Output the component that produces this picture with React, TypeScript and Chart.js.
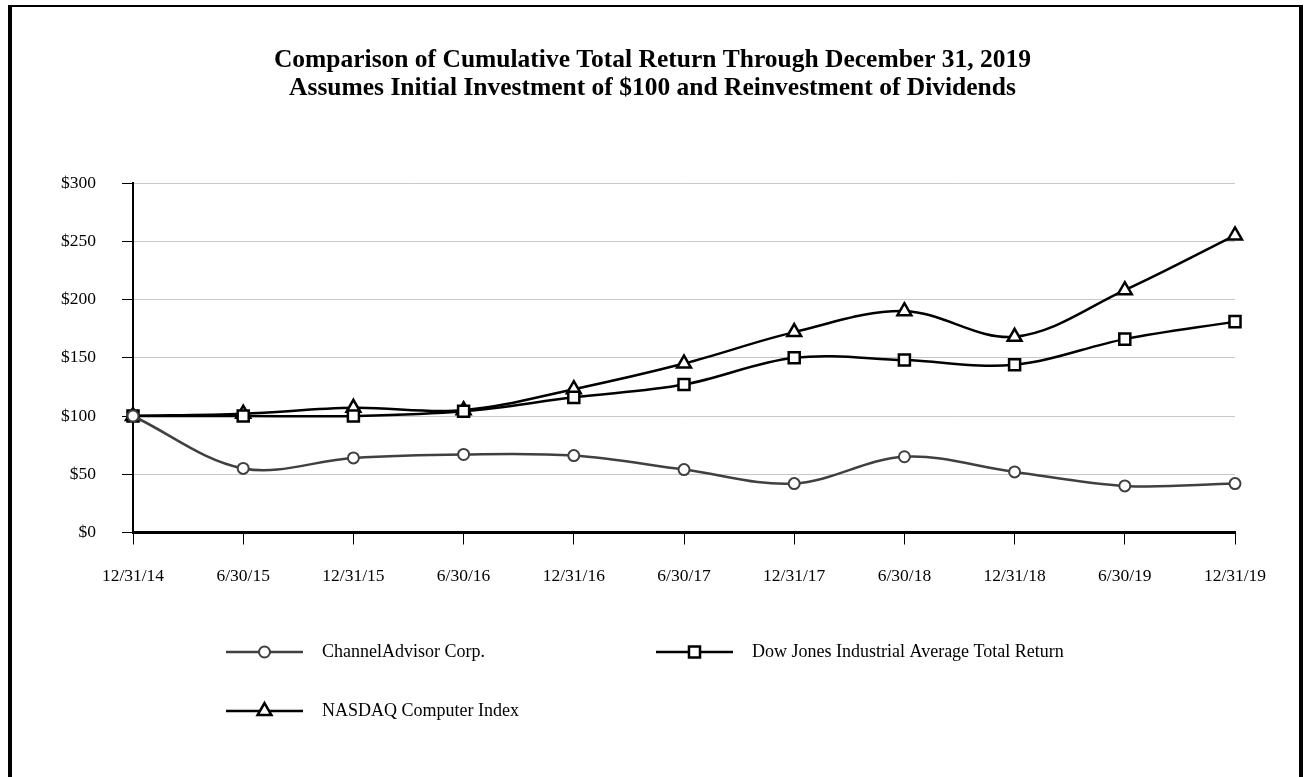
import React, { useEffect, useRef } from "react";
import { Chart, registerables } from "chart.js";

Chart.register(...registerables);

const categories = ["12/31/14", "6/30/15", "12/31/15", "6/30/16", "12/31/16", "6/30/17", "12/31/17", "6/30/18", "12/31/18", "6/30/19", "12/31/19"];
const channelAdvisor = [100, 55, 64, 67, 66, 54, 42, 65, 52, 40, 42];
const dowJones = [100, 100, 100, 104, 116, 127, 150, 148, 144, 166, 181];
const nasdaqComputer = [100, 102, 107, 105, 123, 145, 172, 190, 168, 208, 255];
const seriesLabels = ["ChannelAdvisor Corp.", "Dow Jones Industrial Average Total Return", "NASDAQ Computer Index"];
const titleLines = ["Comparison of Cumulative Total Return Through December 31, 2019", "Assumes Initial Investment of $100 and Reinvestment of Dividends"];
const yTicks = [0, 50, 100, 150, 200, 250, 300];

const FONT = "'Liberation Serif', 'Times New Roman', Times, serif";

function drawMarker(ctx: CanvasRenderingContext2D, style: string, x: number, y: number, r: number, stroke: string, fill: string, bw: number) {
  ctx.save();
  ctx.beginPath();
  if (style === "circle") {
    ctx.arc(x, y, r, 0, Math.PI * 2);
  } else if (style === "rect") {
    const s = Math.SQRT1_2 * r;
    ctx.rect(x - s, y - s, 2 * s, 2 * s);
  } else if (style === "triangle") {
    ctx.moveTo(x, y - r);
    ctx.lineTo(x + Math.sin(2 * Math.PI / 3) * r, y - Math.cos(2 * Math.PI / 3) * r);
    ctx.lineTo(x + Math.sin(4 * Math.PI / 3) * r, y - Math.cos(4 * Math.PI / 3) * r);
    ctx.closePath();
  }
  ctx.fillStyle = fill;
  ctx.fill();
  ctx.lineWidth = bw;
  ctx.strokeStyle = stroke;
  ctx.stroke();
  ctx.restore();
}

const customLegend = {
  id: "customLegend",
  afterDraw(chart: any, _args: any, opts: any) {
    const ctx: CanvasRenderingContext2D = chart.ctx;
    chart.data.datasets.forEach((ds: any, i: number) => {
      const pos = opts.items[i];
      if (!pos) return;
      ctx.save();
      ctx.strokeStyle = ds.borderColor;
      ctx.lineWidth = ds.borderWidth;
      ctx.beginPath();
      ctx.moveTo(pos.x, pos.y);
      ctx.lineTo(pos.x + opts.lineLength, pos.y);
      ctx.stroke();
      drawMarker(ctx, ds.pointStyle, pos.x + opts.lineLength / 2, pos.y, ds.pointRadius, ds.pointBorderColor, ds.pointBackgroundColor, ds.pointBorderWidth);
      ctx.fillStyle = "#000";
      ctx.font = `${opts.fontSize}px ${FONT}`;
      ctx.textAlign = "left";
      ctx.textBaseline = "middle";
      ctx.fillText(ds.label, pos.x + opts.lineLength + opts.gap, pos.y);
      ctx.restore();
    });
  },
};

export default function App() {
  const ref = useRef<HTMLCanvasElement | null>(null);

  useEffect(() => {
    if (!ref.current) return;
    const chart = new Chart(ref.current, {
      type: "line",
      data: {
        labels: categories,
        datasets: [
          {
            label: seriesLabels[0],
            data: channelAdvisor,
            borderColor: "#404040",
            borderWidth: 2.5,
            pointStyle: "circle",
            pointRadius: 5.5,
            pointBorderColor: "#404040",
            pointBackgroundColor: "#ffffff",
            pointBorderWidth: 2,
            tension: 0.35,
          },
          {
            label: seriesLabels[1],
            data: dowJones,
            borderColor: "#000000",
            borderWidth: 2.5,
            pointStyle: "rect",
            pointRadius: 7.8,
            pointBorderColor: "#000000",
            pointBackgroundColor: "#ffffff",
            pointBorderWidth: 2.5,
            tension: 0.35,
          },
          {
            label: seriesLabels[2],
            data: nasdaqComputer,
            borderColor: "#000000",
            borderWidth: 2.5,
            pointStyle: "triangle",
            pointRadius: 8,
            pointBorderColor: "#000000",
            pointBackgroundColor: "#ffffff",
            pointBorderWidth: 2.5,
            tension: 0.35,
          },
        ] as any,
      },
      options: {
        responsive: false,
        animation: false,
        devicePixelRatio: 1,
        layout: { padding: 0 },
        scales: {
          x: {
            type: "category",
            offset: false,
            afterFit: (s: any) => { s.height = 244.5; },
            grid: { drawOnChartArea: false, drawTicks: true, tickLength: 12, tickColor: "#000", tickWidth: 1 },
            border: { display: true, color: "#000", width: 3 },
            ticks: { color: "#000", font: { family: FONT, size: 17.5 }, padding: 21, maxRotation: 0, autoSkip: false },
          },
          y: {
            min: 0,
            max: 300,
            afterFit: (s: any) => { s.width = 133; },
            afterBuildTicks: (s: any) => { s.ticks = yTicks.map((v) => ({ value: v })); },
            grid: { color: "#c8c8c8", lineWidth: 1, tickLength: 11, tickColor: "#000", tickWidth: 1 },
            border: { display: true, color: "#000", width: 2 },
            ticks: { color: "#000", font: { family: FONT, size: 17.5 }, padding: 26, callback: (v: any) => "$" + v },
          },
          yRight: {
            position: "right",
            display: true,
            min: 0,
            max: 300,
            afterFit: (s: any) => { s.width = 70; },
            grid: { display: false, drawTicks: false },
            border: { display: false },
            ticks: { display: false },
          },
        } as any,
        plugins: {
          legend: { display: false },
          tooltip: { enabled: false },
          title: {
            display: true,
            fullSize: true,
            text: titleLines,
            color: "#000",
            font: { family: FONT, size: 25.5, weight: "bold", lineHeight: 28 / 25.5 },
            padding: { top: 46, bottom: 81 },
          },
          customLegend: {
            items: [{ x: 226, y: 652 }, { x: 656, y: 652 }, { x: 226, y: 711 }],
            lineLength: 77,
            gap: 19,
            fontSize: 18,
          },
        } as any,
      },
      plugins: [customLegend],
    });
    return () => chart.destroy();
  }, []);

  return (
    <div style={{ position: "fixed", left: 0, top: 0, width: 1305, height: 777, overflow: "hidden", background: "#fff" }}>
      <canvas ref={ref} width={1305} height={777} style={{ position: "absolute", left: 0, top: 0, width: 1305, height: 777 }} />
      <div
        style={{
          position: "absolute",
          left: 8,
          top: 5,
          width: 1295,
          height: 772,
          boxSizing: "border-box",
          borderTop: "2px solid #000",
          borderLeft: "4px solid #000",
          borderRight: "4px solid #000",
          pointerEvents: "none",
        }}
      />
    </div>
  );
}
